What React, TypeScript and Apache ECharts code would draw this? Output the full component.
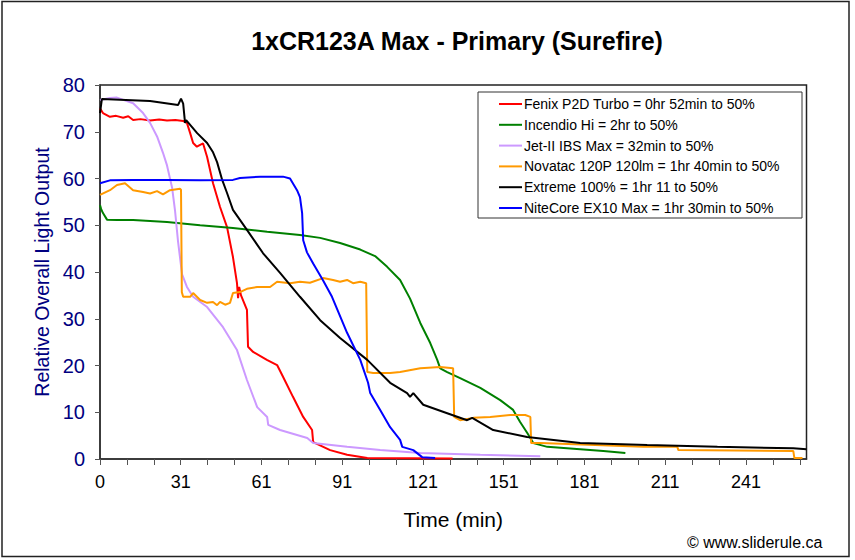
import React, { useEffect, useRef } from "react";
import * as echarts from "echarts";

const chartTitle = "1xCR123A Max - Primary (Surefire)";
const xTitle = "Time (min)";
const yTitle = "Relative Overall Light Output";
const xTickLabels = ["0", "31", "61", "91", "121", "151", "181", "211", "241"];
const seriesNames = [
  "Fenix P2D Turbo = 0hr 52min to 50%",
  "Incendio Hi = 2hr to 50%",
  "Jet-II IBS Max = 32min to 50%",
  "Novatac 120P 120lm = 1hr 40min to 50%",
  "Extreme 100% = 1hr 11 to 50%",
  "NiteCore EX10 Max = 1hr 30min to 50%",
];
const seriesColors = ["#FF0000", "#008000", "#CC99FF", "#FF9900", "#000000", "#0000FF"];

const fenix: number[][] = [
  [0, 75], [1.1, 74], [3.7, 73.2], [6, 73.4], [8.6, 73.0], [10.5, 73.3], [12.3, 72.5], [15, 72.7],
  [18.6, 72.4], [22, 72.6], [24.9, 72.4], [28, 72.5], [30.9, 72.3], [32.3, 71.9], [33.5, 69.7],
  [34.6, 67.6], [36, 66.8], [37.2, 67.2], [38.3, 67.5], [39.8, 64.6], [42, 59], [44.6, 53.9],
  [47.2, 49.6], [49.4, 43.2], [50.9, 37.6], [51.3, 34.4], [51.7, 36.8], [52.4, 35], [54.6, 31.9],
  [55, 24], [56.9, 22.9], [62, 21.2], [65.8, 20.1], [68, 17.6], [71.7, 13.3], [75.5, 9],
  [78.8, 6.2], [79.2, 3.6], [85.5, 1.9], [91.8, 0.9], [99.3, 0.2], [131, 0.1],
];
const incendio: number[][] = [
  [0, 54.3], [0.4, 53.5], [1.1, 52.6], [2.6, 51.2], [6.3, 51.1], [12.3, 51.1], [24.9, 50.7],
  [37.2, 50], [49.4, 49.4], [62.1, 48.6], [74.3, 47.9], [81.8, 47.3], [89.2, 46.2], [96.7, 44.8],
  [102.2, 43.4], [106.7, 41.1], [111.5, 38.3], [115.2, 34.3], [119, 29.1], [122.7, 24.8],
  [125.3, 21.2], [126.4, 19.4], [129, 18.6], [133.8, 17.3], [141.3, 15.2], [148.7, 12.6],
  [153.5, 10.5], [156.1, 7.9], [158.7, 5.6], [161, 3.4], [166.2, 2.6], [178.4, 2.1], [187, 1.7],
  [195.2, 1.3],
];
const jet: number[][] = [
  [0, 76.8], [3.7, 77.2], [6.3, 77.3], [12.3, 76.1], [16, 74], [18.6, 71.9], [21.2, 69],
  [23.4, 65.5], [24.9, 62.8], [26.8, 58], [27.9, 53], [29, 46.5], [30.5, 39.5], [32.3, 36.8],
  [34.6, 34.7], [39.8, 32.5], [45.7, 28.2], [50.9, 23.3], [54.6, 16.9], [58.4, 11.1], [62.1, 9],
  [62.5, 7.3], [66.9, 6.2], [77, 4.5], [79.2, 3.4], [91.8, 2.6], [104.1, 1.9], [119, 1.3],
  [141.3, 0.9], [163.6, 0.6],
];
const novatac: number[][] = [
  [0, 56.5], [3.7, 57.5], [6.3, 58.6], [9.3, 59], [12.3, 57.5], [16, 57.1], [18.6, 56.8],
  [21.2, 57.3], [23.4, 56.6], [26, 57.5], [29.7, 57.8], [30.1, 57.6], [30.4, 35.7], [30.9, 34.7],
  [33.5, 34.7], [34.6, 35.5], [37.2, 34], [39.8, 33.4], [42, 33.6], [43.5, 32.9], [44.6, 33.6],
  [46.5, 33], [48.3, 33.4], [49.4, 35.5], [52, 35.7], [54.6, 36.4], [58.4, 36.8], [63.2, 36.8],
  [65.8, 37.9], [70.6, 37.6], [74.3, 37.9], [78, 37.7], [82.9, 38.7], [86.6, 38.3], [89.2, 37.9],
  [91.8, 38.3], [94, 37.6], [96.7, 37.9], [98.9, 37.6], [99.3, 18.6], [101.5, 18.4],
  [107.8, 18.4], [111.5, 18.6], [119, 19.4], [126.4, 19.7], [131.2, 19.4], [131.6, 9],
  [133.8, 8.3], [138.7, 8.8], [145, 9], [152.4, 9.4], [158, 9.4], [159.9, 9], [160.2, 3.4],
  [163.6, 3.4], [201.9, 2.6], [214.5, 2.6], [214.9, 1.9], [257.6, 1.7], [258, 0.2], [261, 0.2],
];
const extreme: number[][] = [
  [0, 74], [0.7, 77], [18.6, 76.6], [29, 75.7], [30.1, 77.1], [30.9, 76], [31.6, 71.9],
  [32, 72.5], [36.1, 69.7], [39.8, 67.6], [42, 65.6], [43.5, 63.5], [45.4, 59.7], [47.2, 56.9],
  [49.4, 53.3], [54.6, 49], [60.6, 44], [66.9, 39.8], [74.3, 34.7], [81.8, 29.7], [89.2, 25.9],
  [99.3, 21.2], [107.8, 16.3], [114.1, 14.1], [115.2, 13.3], [116.4, 14.1], [120.1, 11.6],
  [129, 9.8], [136.4, 8.3], [138.3, 8.8], [146.1, 6.2], [158.7, 4.7], [178.4, 3.4],
  [203.3, 3.0], [229.4, 2.6], [257.6, 2.3], [262.5, 2.1],
];
const nitecore: number[][] = [
  [0, 59], [3.7, 59.6], [12.3, 59.7], [24.9, 59.7], [37.2, 59.6], [49.4, 59.7], [52, 60.1],
  [59.5, 60.4], [68, 60.4], [70.6, 60], [73.2, 57.5], [74.3, 56], [75.1, 52.6], [75.5, 46.8],
  [76.9, 44.2], [79.2, 41.8], [82.9, 38.2], [86.2, 34.7], [91.8, 27], [96.7, 21.2], [99.6, 16.3],
  [100.4, 14.1], [104.1, 10.5], [107.8, 6.8], [111.5, 4.1], [112.3, 2.6], [116.4, 1.9],
  [119.7, 0.4], [124.5, 0.2],
];
const seriesData = [fenix, incendio, jet, novatac, extreme, nitecore];

const FONT = "Liberation Sans, Arial, sans-serif";

export default function App() {
  const ref = useRef<HTMLDivElement>(null);
  useEffect(() => {
    if (!ref.current) return;
    const chart = echarts.init(ref.current, undefined, { renderer: "svg" });
    chart.setOption({
      animation: false,
      backgroundColor: "#FFFFFF",
      title: {
        text: chartTitle,
        left: 452,
        top: 23,
        textAlign: "center",
        textStyle: { fontFamily: FONT, fontSize: 25, fontWeight: "bold", color: "#000" },
      },
      grid: {
        left: 100,
        right: 48.5,
        top: 85,
        bottom: 101,
        show: true,
        borderColor: "#222",
        borderWidth: 1.5,
        backgroundColor: "#FFFFFF",
      },
      legend: {
        orient: "vertical",
        left: 499,
        top: 96,
        padding: 0,
        itemWidth: 23,
        itemHeight: 2,
        itemGap: 4.8,
        icon: "rect",
        textStyle: { fontFamily: FONT, fontSize: 14, color: "#000", lineHeight: 16, padding: [0, 0, 0, -3] },
        data: seriesNames,
      },
      xAxis: {
        type: "value",
        min: 0,
        max: 262.5,
        interval: 10,
        name: xTitle,
        nameLocation: "middle",
        nameGap: 50,
        nameTextStyle: { fontFamily: FONT, fontSize: 21, color: "#000" },
        axisLine: { show: true, lineStyle: { color: "#333", width: 1.5 } },
        axisTick: { show: true, inside: false, length: 6, lineStyle: { color: "#555", width: 1 } },
        axisLabel: {
          fontFamily: FONT,
          fontSize: 18,
          color: "#000",
          margin: 14,
          showMaxLabel: false,
          formatter: (v: number) => {
            const r = Math.round(v);
            return r % 30 === 0 && xTickLabels[r / 30] !== undefined ? xTickLabels[r / 30] : "";
          },
        },
        splitLine: { show: false },
      },
      yAxis: {
        type: "value",
        min: 0,
        max: 80,
        interval: 10,
        name: yTitle,
        nameLocation: "middle",
        nameGap: 45,
        nameTextStyle: { fontFamily: FONT, fontSize: 19.5, color: "#000080" },
        axisLine: { show: true, lineStyle: { color: "#333", width: 1.5 } },
        axisTick: { show: true, inside: false, length: 5, lineStyle: { color: "#555", width: 1 } },
        axisLabel: { fontFamily: FONT, fontSize: 20, color: "#000080", margin: 15 },
        splitLine: { show: false },
      },
      series: seriesData.map((d, i) => ({
        name: seriesNames[i],
        type: "line",
        data: d,
        showSymbol: false,
        symbol: "none",
        color: seriesColors[i],
        lineStyle: { color: seriesColors[i], width: 2 },
      })),
      graphic: [
        {
          type: "rect",
          shape: { x: 478, y: 92, width: 324, height: 126 },
          style: { fill: "none", stroke: "#333", lineWidth: 1 },
          z: 5,
        },
        {
          type: "rect",
          shape: { x: 2, y: 1.5, width: 847, height: 555 },
          style: { fill: "none", stroke: "#222", lineWidth: 1.5 },
          z: 5,
        },
        {
          type: "text",
          left: 687,
          top: 534,
          style: { text: "© www.sliderule.ca", fontFamily: FONT, fontSize: 16, fill: "#000" },
        },
      ],
    });
    return () => chart.dispose();
  }, []);
  return <div ref={ref} style={{ position: "absolute", left: 0, top: 0, width: 855, height: 560 }} />;
}
